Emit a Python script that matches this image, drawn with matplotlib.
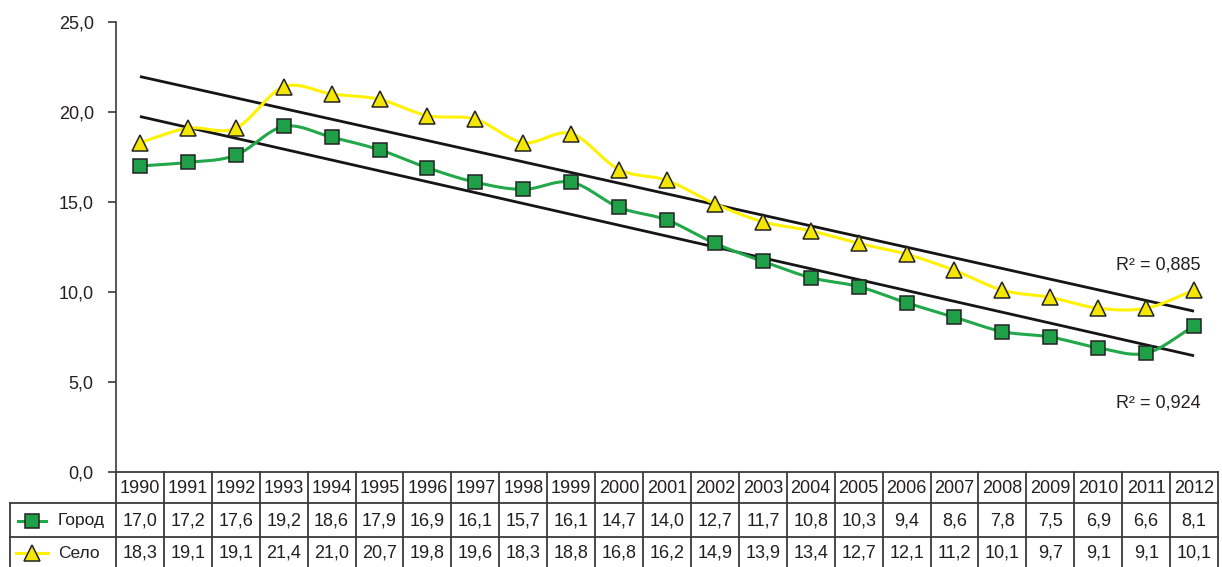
import numpy as np
import matplotlib
matplotlib.use("Agg")
import matplotlib.pyplot as plt
from matplotlib import transforms
from matplotlib.lines import Line2D

years = [1990, 1991, 1992, 1993, 1994, 1995, 1996, 1997, 1998, 1999, 2000, 2001,
         2002, 2003, 2004, 2005, 2006, 2007, 2008, 2009, 2010, 2011, 2012]
gorod = [17.0, 17.2, 17.6, 19.2, 18.6, 17.9, 16.9, 16.1, 15.7, 16.1, 14.7, 14.0,
         12.7, 11.7, 10.8, 10.3, 9.4, 8.6, 7.8, 7.5, 6.9, 6.6, 8.1]
selo = [18.3, 19.1, 19.1, 21.4, 21.0, 20.7, 19.8, 19.6, 18.3, 18.8, 16.8, 16.2,
        14.9, 13.9, 13.4, 12.7, 12.1, 11.2, 10.1, 9.7, 9.1, 9.1, 10.1]
series_names = ["Город", "Село"]
r2_labels = ["R² = 0,924", "R² = 0,885"]
y_ticks = [0, 5, 10, 15, 20, 25]

FONT = ["Liberation Sans", "DejaVu Sans"]
plt.rcParams["font.family"] = FONT

FS = 13
FS_LEG = 12.5
TXT = "#231f20"
GREEN_LINE = "#22a84a"
GREEN_FILL = "#1f9f48"
YELLOW_LINE = "#fff200"
YELLOW_FILL = "#f5e600"
EDGE = "#222222"
TABLE = "#3a3a3a"
SQ_MS = 10.5
TRI_MS = 11.5


def catmull_rom(x, y, n=24):
    x = np.asarray(x, float)
    y = np.asarray(y, float)
    px = np.concatenate([[2 * x[0] - x[1]], x, [2 * x[-1] - x[-2]]])
    py = np.concatenate([[2 * y[0] - y[1]], y, [2 * y[-1] - y[-2]]])
    out_x, out_y = [], []
    t = np.linspace(0, 1, n, endpoint=False)
    for i in range(1, len(px) - 2):
        for arr, out in ((px, out_x), (py, out_y)):
            p0, p1, p2, p3 = arr[i - 1], arr[i], arr[i + 1], arr[i + 2]
            out.extend(0.5 * ((2 * p1) + (-p0 + p2) * t
                              + (2 * p0 - 5 * p1 + 4 * p2 - p3) * t ** 2
                              + (-p0 + 3 * p1 - 3 * p2 + p3) * t ** 3))
    out_x.append(x[-1])
    out_y.append(y[-1])
    return np.array(out_x), np.array(out_y)


W, H = 1222, 567
fig = plt.figure(figsize=(W / 100, H / 100), dpi=100)
fig.patch.set_facecolor("white")

x0, x1, y_top, y_base = 116, 1218, 22, 472
ax = fig.add_axes([x0 / W, (H - y_base) / H, (x1 - x0) / W, (y_base - y_top) / H])
n = len(years)
xs = np.arange(n)
ax.set_xlim(-0.5, n - 0.5)
ax.set_ylim(0, 25)
for s in ("top", "right", "bottom"):
    ax.spines[s].set_visible(False)
ax.spines["left"].set_color(TABLE)
ax.spines["left"].set_linewidth(1.2)
ax.set_xticks([])
ax.set_yticks(y_ticks)
ax.set_yticklabels([f"{v:.1f}".replace(".", ",") for v in y_ticks], fontsize=FS)
ax.tick_params(axis="y", direction="out", length=6, width=1.2, color=TABLE, pad=10,
               labelcolor=TXT)

# linear trends
for vals in (gorod, selo):
    k, b = np.polyfit(xs, vals, 1)
    ax.plot([xs[0], xs[-1]], [k * xs[0] + b, k * xs[-1] + b], color="#151515",
            lw=2.0, zorder=2, solid_capstyle="butt")

# smoothed series
sx, sy = catmull_rom(xs, selo)
ax.plot(sx, sy, color=YELLOW_LINE, lw=2.2, zorder=3)
ax.plot(xs, selo, ls="none", marker="^", ms=TRI_MS, mfc=YELLOW_FILL, mec=EDGE,
        mew=1.1, zorder=4, clip_on=False)
gx, gy = catmull_rom(xs, gorod)
ax.plot(gx, gy, color=GREEN_LINE, lw=2.2, zorder=3)
ax.plot(xs, gorod, ls="none", marker="s", ms=SQ_MS, mfc=GREEN_FILL, mec=EDGE,
        mew=1.1, zorder=4, clip_on=False)

# R² labels
ax.text(22.13, 11.5, r2_labels[1], fontsize=FS, ha="right", va="center", color=TXT)
ax.text(22.13, 3.85, r2_labels[0], fontsize=FS, ha="right", va="center", color=TXT)

# data table under the axis
bt = transforms.blended_transform_factory(ax.transData, fig.transFigure)


def fy(py):
    return (H - py) / H


def fx(px):
    return px / W


rows_y = [472, 503, 537, 567]
lw_t = 1.3
fig.add_artist(Line2D([fx(x0), fx(x1)], [fy(rows_y[0])] * 2, color=TABLE, lw=lw_t))
for ry in rows_y[1:3]:
    fig.add_artist(Line2D([fx(10), fx(x1)], [fy(ry)] * 2, color=TABLE, lw=lw_t))
fig.add_artist(Line2D([fx(10), fx(10)], [fy(rows_y[1]), fy(rows_y[3])], color=TABLE, lw=lw_t))
for i in range(n + 1):
    fig.add_artist(Line2D([i - 0.5, i - 0.5], [fy(rows_y[0]), fy(rows_y[3])],
                          color=TABLE, lw=lw_t, transform=bt))

row_c = [(rows_y[i] + rows_y[i + 1]) / 2 + 1 for i in range(3)]
for i, yr in enumerate(years):
    fig.text(i, fy(row_c[0]), str(yr), transform=bt, ha="center", va="center",
             fontsize=FS, color=TXT)
    fig.text(i, fy(row_c[1]), f"{gorod[i]:.1f}".replace(".", ","), transform=bt,
             ha="center", va="center", fontsize=FS, color=TXT)
    fig.text(i, fy(row_c[2]), f"{selo[i]:.1f}".replace(".", ","), transform=bt,
             ha="center", va="center", fontsize=FS, color=TXT)

# legend keys inside the table
fig.add_artist(Line2D([fx(18), fx(46)], [fy(row_c[1])] * 2, color=GREEN_LINE, lw=2.2))
fig.add_artist(Line2D([fx(32)], [fy(row_c[1])], ls="none", marker="s", ms=SQ_MS,
                      mfc=GREEN_FILL, mec=EDGE, mew=1.1))
fig.add_artist(Line2D([fx(16), fx(48)], [fy(row_c[2])] * 2, color=YELLOW_LINE, lw=2.2))
fig.add_artist(Line2D([fx(32)], [fy(row_c[2])], ls="none", marker="^", ms=TRI_MS,
                      mfc=YELLOW_FILL, mec=EDGE, mew=1.1))
fig.text(fx(58), fy(row_c[1]), series_names[0], ha="left", va="center",
         fontsize=FS_LEG, color=TXT)
fig.text(fx(58), fy(row_c[2]), series_names[1], ha="left", va="center",
         fontsize=FS_LEG, color=TXT)

fig.savefig("out.png", dpi=100, facecolor="white")
